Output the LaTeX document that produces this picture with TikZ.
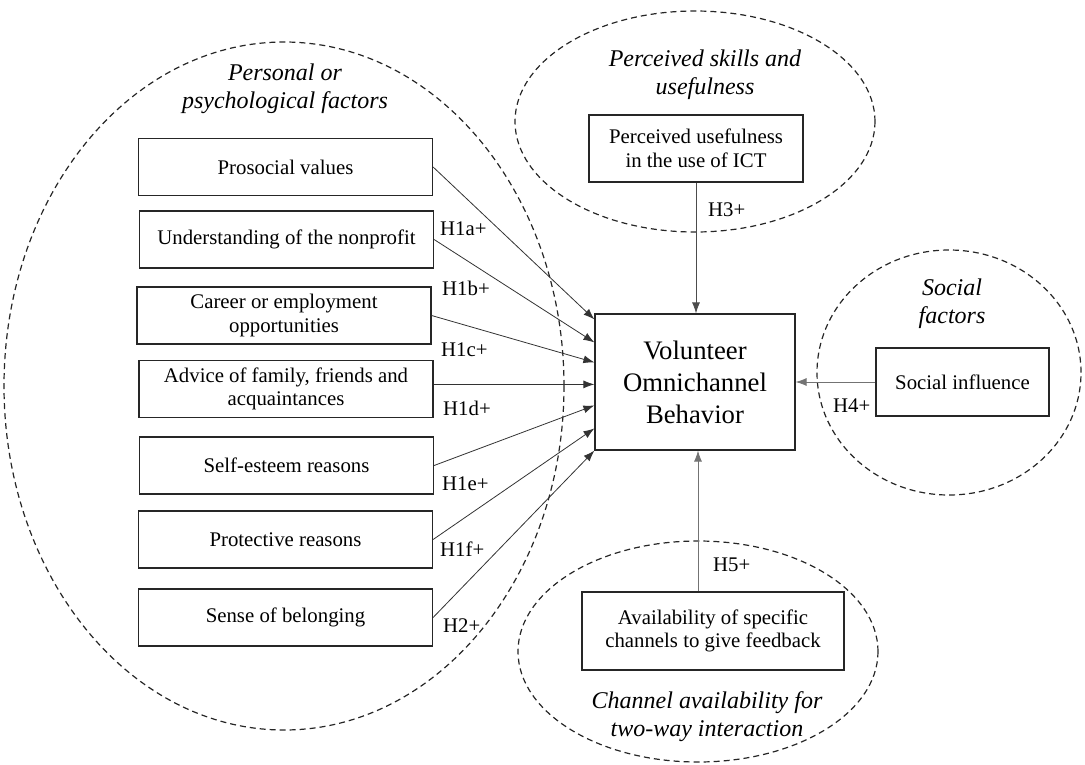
\documentclass[tikz,border=0pt]{standalone}
\usepackage{fontspec}
\setmainfont{Liberation Serif}
\usetikzlibrary{arrows.meta,shapes.geometric}
\begin{document}
\begin{tikzpicture}[x=1pt,y=-1pt,
  fbox/.style={draw=black!85,line width=1.2pt,minimum width=294pt,minimum height=57pt,inner sep=0pt,align=center,font=\fontsize{20.8}{23.5}\selectfont},
  grp/.style={draw=black!85,dash pattern=on 6pt off 4pt,line width=1.2pt,ellipse,inner sep=0pt},
  glab/.style={align=center,inner sep=0pt,font=\fontsize{24}{28}\selectfont\itshape},
  hlab/.style={anchor=west,inner sep=0pt,font=\fontsize{20.8}{23.5}\selectfont},
  arr/.style={-{Latex[length=11pt,width=8pt]},line width=0.8pt,draw=black!80},
  arrg/.style={arr,draw=black!55},
]
\useasboundingbox (0,0) rectangle (1085,764);
% group ellipses
\node[grp,minimum width=560pt,minimum height=688pt] (g1) at (284,386) {};
\node[grp,minimum width=360pt,minimum height=221pt] (g2) at (695,121.5) {};
\node[grp,minimum width=264pt,minimum height=245pt] (g3) at (949,372.5) {};
\node[grp,minimum width=360pt,minimum height=221pt] (g4) at (698,651.5) {};
% group labels
\node[glab] (l1) at (285,88.5) {Personal or\\psychological factors};
\node[glab] (l2) at (705,74.5) {Perceived skills and\\usefulness};
\node[glab] (l3) at (952,304) {Social\\factors};
\node[glab] (l4) at (707,717) {Channel availability for\\two-way interaction};
% left boxes
\node[fbox] (b1) at (285.5,167) {Prosocial values};
\node[fbox] (b2) at (286.5,239.5) {Understanding of the nonprofit};
\node[fbox] (b3) at (284,315.5) {Career or employment\\opportunities};
\node[fbox] (b4) at (286,389) {Advice of family, friends and\\acquaintances};
\node[fbox] (b5) at (286.5,465.5) {Self-esteem reasons};
\node[fbox] (b6) at (285.5,539.5) {Protective reasons};
\node[fbox] (b7) at (285.5,617.5) {Sense of belonging};
% central and other boxes
\node[draw=black!85,line width=1.2pt,minimum width=200pt,minimum height=136pt,inner sep=0pt,align=center,font=\fontsize{26.7}{32}\selectfont] (vob) at (695,382) {Volunteer\\Omnichannel\\Behavior};
\node[fbox,minimum width=214pt,minimum height=67pt] (pu) at (696,148.5) {Perceived usefulness\\in the use of ICT};
\node[fbox,minimum width=173pt,minimum height=68pt] (si) at (962.5,382) {Social influence};
\node[fbox,minimum width=262pt,minimum height=78pt] (av) at (713,631) {Availability of specific\\channels to give feedback};
% arrow targets
\coordinate (t1) at ([yshift=-6pt]vob.north west);
\coordinate (t2) at ([yshift=-29pt]vob.north west);
\coordinate (t3) at ([yshift=-49pt]vob.north west);
\coordinate (t4) at ([yshift=-71pt]vob.north west);
\coordinate (t5) at ([yshift=-92pt]vob.north west);
\coordinate (t6) at ([yshift=-115pt]vob.north west);
\coordinate (t7) at (vob.south west);
\coordinate (h5) at ([xshift=3pt]vob.south);
% connectors
\draw[arr] (b1.east) -- (t1);
\draw[arr] (b2.east) -- (t2);
\draw[arr] (b3.east) -- (t3);
\draw[arr] (b4.east |- t4) -- (t4);
\draw[arr] (b5.east) -- (t5);
\draw[arr] (b6.east) -- (t6);
\draw[arr] (b7.east) -- (t7);
\draw[arr,draw=black!70] (pu.south) -- (pu.south |- vob.north);
\draw[arrg] (si.west) -- (vob.east);
\draw[arrg] (av.north -| h5) -- (h5);
% hypothesis labels
\node[hlab] (h1a) at (440,229) {H1a+};
\node[hlab] (h1b) at (442,288) {H1b+};
\node[hlab] (h1c) at (441,350) {H1c+};
\node[hlab] (h1d) at (443,408) {H1d+};
\node[hlab] (h1e) at (442,484) {H1e+};
\node[hlab] (h1f) at (440,549) {H1f+};
\node[hlab] (h2) at (443,626) {H2+};
\node[hlab] (h3) at (708,210) {H3+};
\node[hlab] (h4) at (833,405.5) {H4+};
\node[hlab] (h5l) at (713,565) {H5+};
\end{tikzpicture}
\end{document}
